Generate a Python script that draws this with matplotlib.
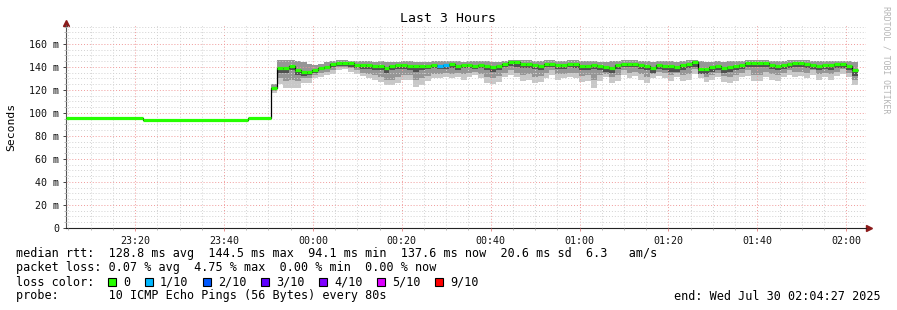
import matplotlib
matplotlib.use("Agg")
import numpy as np
import matplotlib.pyplot as plt
from matplotlib.patches import Rectangle
from matplotlib.ticker import MultipleLocator

# time axis in minutes relative to 00:00, window 23:04:27 .. 02:04:27
t_start, t_end = -55.55, 124.45
step = 80 / 60  # 80 s probe step

# flat early section (before the jump)
pre_start = [-55.55, -38.2, -14.6]
pre_median = [95.3, 94.1, 95.3]
col_start = -9.43

# median rtt per 80 s column (ms) after the jump
median = [121.5, 139, 139, 141, 137, 136, 136, 137.4, 139.4, 140.3,
          142.2, 143.8, 143.2, 143.2, 141.7, 141.7, 141.7, 141.2, 141.2, 138.9,
          141, 141.7, 141.7, 141, 141, 141, 141.2, 142, 140.5, 141.5,
          142.6, 141, 142, 142, 141, 142, 141, 140, 141, 143,
          144, 144, 143, 143, 142, 141, 143, 143, 141.7, 141.7,
          143, 143, 141, 141, 141.7, 141, 140, 139.4, 142, 143,
          143, 143, 141.7, 141, 139.4, 141.7, 141, 141, 140, 141.7,
          143, 144, 138.3, 138.3, 140, 141, 139.4, 140, 141, 142,
          143.8, 143.8, 143.8, 143.8, 142, 141, 142, 143, 143.8, 143.8,
          143, 142, 141, 141.7, 141.7, 142.5, 142.5, 141, 137]

# smoke envelope per column (ms)
smoke_hi = [125, 146, 146, 146, 145, 144, 143, 142, 143, 144,
            145, 146, 146, 145, 145, 145, 145, 144, 145, 144,
            144, 144, 145, 145, 144, 144, 144, 145, 145, 145,
            145, 145, 144, 145, 145, 145, 145, 144, 144, 145,
            146, 146, 146, 146, 145, 145, 146, 146, 145, 145,
            146, 146, 145, 145, 145, 144, 144, 145, 145, 146,
            146, 146, 145, 145, 144, 145, 145, 145, 144, 145,
            146, 146, 145, 144, 144, 145, 144, 145, 145, 145,
            146, 146, 146, 146, 145, 145, 145, 146, 146, 146,
            146, 145, 145, 145, 145, 145, 145, 145, 144]
smoke_lo_light = [117, 125, 122, 122, 122, 126, 126, 130, 131, 133,
                  134, 137, 138, 136, 134, 132, 130, 129, 127, 124,
                  124, 126, 129, 129, 123, 124, 128, 130, 130, 131,
                  130, 131, 129, 131, 133, 130, 126, 125, 127, 131,
                  133, 131, 128, 129, 126, 127, 130, 133, 129, 130,
                  131, 130, 127, 128, 122, 128, 131, 126, 128, 133,
                  130, 132, 129, 126, 130, 132, 130, 128, 131, 128,
                  129, 134, 130, 127, 129, 131, 127, 126, 128, 131,
                  132, 128, 128, 131, 129, 128, 131, 133, 131, 132,
                  130, 133, 129, 131, 129, 132, 134, 131, 124]
smoke_lo_mid = [119, 130, 128, 129, 128, 130, 130, 133, 135, 136,
                137, 140, 140, 139, 137, 135, 134, 133, 131, 129,
                129, 131, 133, 133, 129, 130, 132, 134, 134, 135,
                134, 135, 134, 135, 136, 134, 131, 130, 132, 135,
                137, 135, 133, 134, 131, 132, 135, 137, 134, 134,
                135, 135, 132, 133, 129, 133, 134, 131, 133, 137,
                135, 136, 134, 131, 134, 136, 135, 133, 135, 133,
                134, 138, 134, 131, 133, 135, 132, 131, 133, 135,
                137, 133, 133, 136, 134, 133, 135, 137, 136, 136,
                135, 137, 134, 135, 134, 136, 138, 135, 129]
smoke_lo_dark = [120, 135, 135, 137, 133, 132, 133, 135, 137, 138,
                 140, 141, 141, 140, 139, 138, 138, 137, 137, 135,
                 137, 138, 138, 137, 136, 137, 138, 139, 138, 138,
                 139, 137, 139, 139, 138, 139, 137, 136, 137, 140,
                 141, 140, 139, 139, 138, 137, 140, 140, 138, 138,
                 140, 139, 137, 137, 138, 137, 136, 135, 138, 140,
                 140, 140, 138, 137, 135, 138, 137, 136, 136, 137,
                 139, 140, 134, 134, 136, 137, 135, 136, 137, 138,
                 140, 140, 140, 140, 138, 137, 138, 139, 140, 140,
                 139, 138, 137, 138, 137, 139, 139, 137, 132]

# columns with packet loss (column index -> lost pings out of 10)
lossy_cols = {28: 1, 29: 1}

loss_labels = ["0", "1/10", "2/10", "3/10", "4/10", "5/10", "9/10"]
loss_colors = ["#26ff00", "#00b8ff", "#0059ff", "#5e00ff", "#7e00ff", "#dd00ff", "#ff0000"]

x_ticks = [-40, -20, 0, 20, 40, 60, 80, 100, 120]
x_labels = ["23:20", "23:40", "00:00", "00:20", "00:40", "01:00", "01:20", "01:40", "02:00"]
y_ticks = [0, 20, 40, 60, 80, 100, 120, 140, 160]
y_labels = ["0", "20 m", "40 m", "60 m", "80 m", "100 m", "120 m", "140 m", "160 m"]

W, H = 897, 310
MONO = "DejaVu Sans Mono"
plt.rcParams["font.family"] = MONO

fig = plt.figure(figsize=(W / 100, H / 100), dpi=100)
fig.patch.set_facecolor("white")
ax = fig.add_axes([66 / W, 1 - 228 / H, 800 / W, (228 - 25) / H])
ax.set_xlim(t_start, t_end)
ax.set_ylim(0, 176.5)

med = np.array(median)
col_edges = col_start + step * np.arange(len(med) + 1)
col_left = col_edges[:-1]

# smoke
hi = np.array(smoke_hi)
for lo, c in [(smoke_lo_light, "#c8c8c8"), (smoke_lo_mid, "#969696")]:
    lo = np.array(lo)
    ax.bar(col_left, hi - lo, bottom=lo, width=step, align="edge", color=c, lw=0, zorder=1)
lo = np.array(smoke_lo_dark)
ax.bar(col_left, med - lo, bottom=lo, width=step, align="edge", color="#505050", lw=0, zorder=1)

# median: black step line plus loss-coloured segments
edges = np.concatenate([pre_start, col_edges])
values = np.concatenate([pre_median, med])
ax.stairs(values, edges, baseline=None, color="black", lw=0.9, zorder=3)
seg_colors = [loss_colors[0]] * len(pre_median) + \
    [loss_colors[lossy_cols.get(i, 0)] for i in range(len(med))]
ax.hlines(values, edges[:-1], edges[1:], colors=seg_colors, lw=2.3, zorder=4)

# grid
ax.set_axisbelow(False)
ax.set_xticks(x_ticks)
ax.set_xticklabels(x_labels)
ax.set_yticks(y_ticks)
ax.set_yticklabels(y_labels)
ax.xaxis.set_minor_locator(MultipleLocator(5))
ax.yaxis.set_minor_locator(MultipleLocator(5))
ax.grid(which="minor", color="#d2d2d2", lw=0.7, ls=(0, (1, 2)))
ax.grid(which="major", color="#f09a9a", lw=0.7, ls=(0, (1, 2)))
ax.tick_params(which="both", labelsize=7.2, length=2, width=0.6, pad=3, colors="#222222")
ax.tick_params(which="minor", length=1.5, colors="#aaaaaa")
ax.tick_params(axis="x", which="major", colors="#e08080", labelcolor="#111111", pad=4)
ax.tick_params(axis="y", which="major", labelcolor="#111111", pad=3)

for s in ["top", "right"]:
    ax.spines[s].set_visible(False)
ax.spines["left"].set_color("#555555")
ax.spines["bottom"].set_color("#222222")
ax.spines["left"].set_linewidth(0.8)
ax.spines["bottom"].set_linewidth(0.8)
ax.plot([0], [1.01], marker="^", ms=4, color="#8b1a1a", transform=ax.transAxes, clip_on=False)
ax.plot([1.004], [0], marker=">", ms=4, color="#8b1a1a", transform=ax.transAxes, clip_on=False)


def px(x, y):
    return x / W, 1 - y / H


fig.text(*px(448, 19), "Last 3 Hours", ha="center", va="center", fontsize=9.5)
fig.text(*px(11, 127), "Seconds", ha="center", va="center", rotation=90, fontsize=8.2)
fig.text(*px(886, 60), "RRDTOOL / TOBI OETIKER", ha="center", va="center",
         rotation=270, fontsize=5.9, color="#b4b4b4")

fs = 8.5
legend_lines = [
    (254, "median rtt:  128.8 ms avg  144.5 ms max  94.1 ms min  137.6 ms now  20.6 ms sd  6.3   am/s"),
    (268, "packet loss: 0.07 % avg  4.75 % max  0.00 % min  0.00 % now"),
    (282, "loss color:"),
    (296, "probe:       10 ICMP Echo Pings (56 Bytes) every 80s"),
]
for y, s in legend_lines:
    fig.text(*px(16, y), s, ha="left", va="center", fontsize=fs)

sq_x = [108, 145, 203, 261, 319, 377, 435]
for x, lab, c in zip(sq_x, loss_labels, loss_colors):
    fig.add_artist(Rectangle(px(x, 286), 8 / W, 8 / H, facecolor=c, edgecolor="black",
                             lw=0.8, transform=fig.transFigure))
    fig.text(*px(x + 15, 282), lab, ha="left", va="center", fontsize=fs)

fig.text(*px(881, 296), "end: Wed Jul 30 02:04:27 2025", ha="right", va="center", fontsize=fs)

fig.savefig("out.png", dpi=100, facecolor="white")
